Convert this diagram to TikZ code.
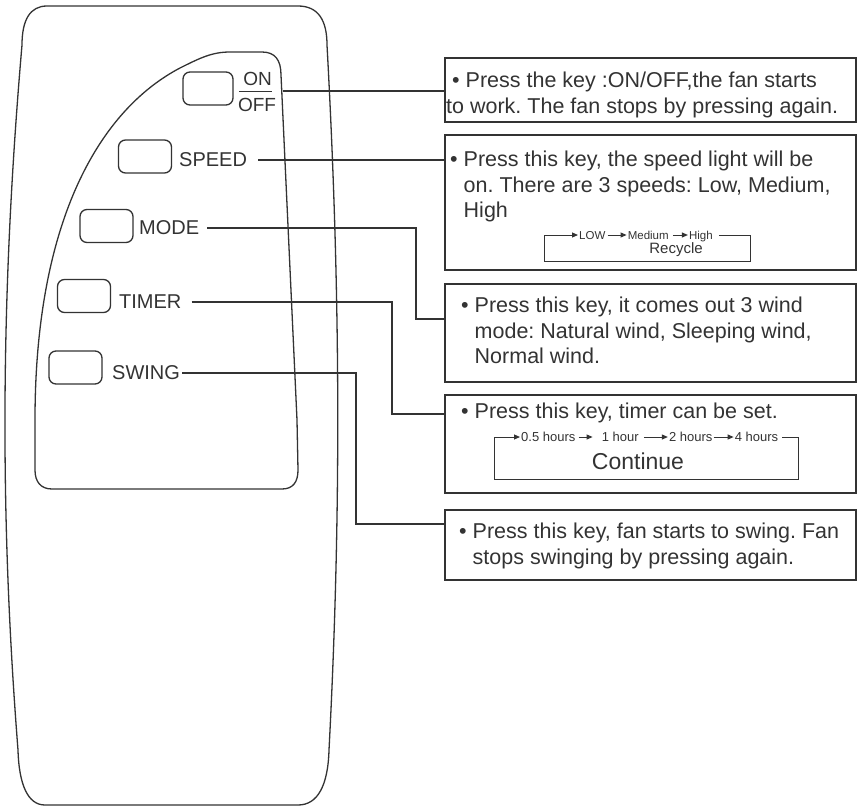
\documentclass[tikz,border=0pt]{standalone}
\usepackage{fontspec}
\setmainfont{Liberation Sans}
\usetikzlibrary{arrows.meta,positioning}
\definecolor{ink}{HTML}{333333}
\newcommand{\bulletgap}{\hphantom{\textbullet\ }}
\frenchspacing

\begin{document}
\begin{tikzpicture}[x=1pt, y=-1pt,
  body/.style={draw=ink, line width=1.3pt},
  keybtn/.style={draw=ink, line width=1.3pt, rounded corners=7pt, minimum width=53pt, minimum height=33pt},
  keylabel/.style={text=ink, inner sep=0pt, font=\fontsize{20}{24}\selectfont},
  notebox/.style={draw=ink, line width=1.6pt, anchor=north west, minimum width=411pt},
  notetext/.style={text=ink, inner sep=0pt, anchor=north west, align=left, font=\fontsize{21.5}{25.5}\selectfont},
  wire/.style={draw=ink, line width=1.3pt},
  flowword/.style={text=ink, inner sep=0pt, text depth=0pt},
  flow/.style={draw=ink, line width=1pt},
  flowarrow/.style={flow, -{Triangle[length=6pt,width=5pt]}}]

\useasboundingbox (0,0) rectangle (857,806);

% remote body and key panel
\draw[body] (47,6) -- (298,6) .. controls (318,6) and (327,20) .. (327,45)
  .. controls (341,300) and (341,520) .. (329,750)
  .. controls (328,785) and (318,805) .. (298,805) -- (45,805)
  .. controls (28,805) and (19,785) .. (18,750)
  .. controls (0,520) and (0,300) .. (22,45)
  .. controls (22,20) and (30,6) .. (47,6) -- cycle;
\draw[body] (230,52) -- (262,52) .. controls (275,52) and (281,60) .. (281,75)
  -- (297,420) -- (298,470) .. controls (298,482) and (293,489) .. (282,489)
  -- (52,489) .. controls (41,489) and (35,482) .. (35,470) -- (35,420)
  .. controls (35,220) and (100,110) .. (180,68)
  .. controls (200,58) and (212,52) .. (230,52) -- cycle;

% keys
\node[keybtn, minimum width=50pt] (onoffkey) at (208,88.5) {};
\node[keybtn] (speedkey) at (145,156.5) {};
\node[keybtn] (modekey) at (106.5,226) {};
\node[keybtn] (timerkey) at (84,296) {};
\node[keybtn] (swingkey) at (75.5,367.5) {};

% key names
\node[keylabel, font=\fontsize{19}{22}\selectfont] (onlbl) at (257.5,78.5) {ON};
\node[keylabel, font=\fontsize{19}{22}\selectfont] (offlbl) at (257,104.5) {OFF};
\draw[ink, line width=1.2pt] ([xshift=-4pt,yshift=-6pt]onlbl.south west) -- ([yshift=-6pt]onlbl.south east);
\node[keylabel, anchor=west] (speedlbl) at (179,160) {SPEED};
\node[keylabel, anchor=west] (modelbl) at (139,228) {MODE};
\node[keylabel, anchor=west] (timerlbl) at (119,302) {TIMER};
\node[keylabel, anchor=west] (swinglbl) at (112,373) {SWING};

% note boxes
\node[notebox, minimum height=64pt] (onoffnote) at (444,57) {};
\node[notebox, minimum height=135pt] (speednote) at (444,134) {};
\node[notebox, minimum height=98pt] (modenote) at (444,283) {};
\node[notebox, minimum height=98pt] (timernote) at (444,394) {};
\node[notebox, minimum height=70pt] (swingnote) at (444,509) {};

\node[notetext] (onofftext) at (446,72) {\hspace{6pt}\textbullet\ Press the key :ON/OFF,the fan starts\\to work. The fan stops by pressing again.};
\node[notetext] (speedtext) at (450,151) {\textbullet\ Press this key, the speed light will be\\\bulletgap on. There are 3 speeds: Low, Medium,\\\bulletgap High};
\node[notetext] (modetext) at (461,297) {\textbullet\ Press this key, it comes out 3 wind\\\bulletgap mode: Natural wind, Sleeping wind,\\\bulletgap Normal wind.};
\node[notetext] (timertext) at (461,403) {\textbullet\ Press this key, timer can be set.};
\node[notetext] (swingtext) at (459,523) {\textbullet\ Press this key, fan starts to swing. Fan\\\bulletgap stops swinging by pressing again.};

% speed cycle
\coordinate (recyc-nw) at (544,235);
\coordinate (recyc-ne) at (750,235);
\coordinate (recyc-se) at (750,261);
\coordinate (recyc-sw) at (544,261);
\begin{scope}[every node/.append style={flowword, font=\fontsize{11.5}{12}\selectfont, text height=8.3pt}]
\node[anchor=west] (low) at (579,235) {LOW};
\node[right=22pt of low] (medium) {Medium};
\node[right=20pt of medium] (high) {High};
\end{scope}
\node[flowword, font=\fontsize{15}{16}\selectfont] (recycle) at (676,248) {Recycle};
\draw[flowarrow, shorten <=2pt, shorten >=1pt] (low.east) -- (medium.west);
\draw[flowarrow, shorten <=4pt, shorten >=1pt] (medium.east) -- (high.west);
\draw[flowarrow, shorten >=1pt] ([xshift=6pt]high.east) -- (recyc-ne) -- (recyc-se)
  -- (recyc-sw) -- (recyc-nw) -- (low.west);

% timer cycle
\coordinate (cont-nw) at (494,437);
\coordinate (cont-ne) at (798,437);
\coordinate (cont-se) at (798,479);
\coordinate (cont-sw) at (494,479);
\begin{scope}[every node/.append style={flowword, font=\fontsize{13}{14}\selectfont, text height=9.3pt}]
\node[anchor=west] (half) at (521,437) {0.5 hours};
\node[right=26pt of half] (one) {1 hour};
\node[right=30pt of one] (two) {2 hours};
\node[right=22pt of two] (four) {4 hours};
\end{scope}
\node[flowword, font=\fontsize{23}{24}\selectfont] (continue) at (638,461) {Continue};
\draw[flowarrow, shorten <=3pt, shorten >=9pt] (half.east) -- (one.west);
\draw[flowarrow, shorten <=5pt, shorten >=1pt] (one.east) -- (two.west);
\draw[flowarrow, shorten <=1pt, shorten >=1pt] (two.east) -- (four.west);
\draw[flowarrow, shorten >=1pt] ([xshift=4pt]four.east) -- (cont-ne) -- (cont-se)
  -- (cont-sw) -- (cont-nw) -- (half.west);

% leader lines
\coordinate (onofftap) at (283,91);
\draw[wire] (onofftap) -- (onofftap -| onoffnote.west);
\draw[wire] ([xshift=11pt]speedlbl.east) -- (speedlbl.east -| speednote.west);
\draw[wire] ([xshift=8pt]modelbl.east) -| ([xshift=-28pt,yshift=-36pt]modenote.north west) -- ([yshift=-36pt]modenote.north west);
\draw[wire] ([xshift=10pt]timerlbl.east) -| ([xshift=-52pt,yshift=-20pt]timernote.north west) -- ([yshift=-20pt]timernote.north west);
\draw[wire] ([xshift=2pt]swinglbl.east) -| ([xshift=-88pt,yshift=-15pt]swingnote.north west) -- ([yshift=-15pt]swingnote.north west);
\end{tikzpicture}
\end{document}
